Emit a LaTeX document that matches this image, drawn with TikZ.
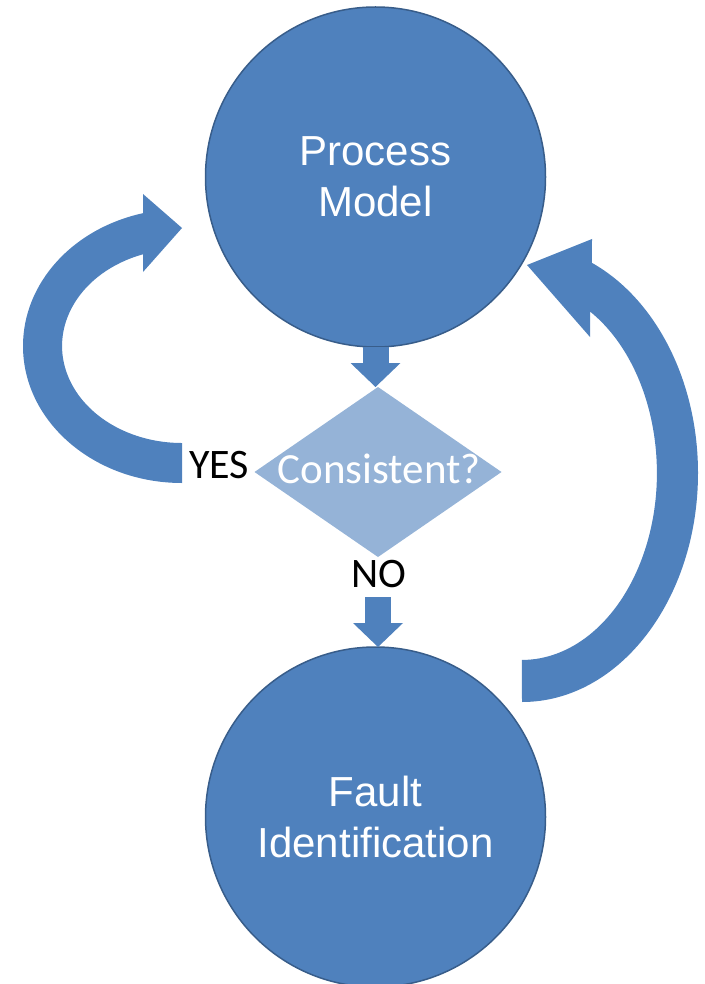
\documentclass[tikz,border=0pt]{standalone}
\usepackage{fontspec}
\setmainfont{Liberation Sans}
\newfontfamily\calibri{Carlito}
\usetikzlibrary{arrows.meta,shapes.geometric}
\definecolor{blu}{HTML}{4F81BD}
\definecolor{blubord}{HTML}{385D8A}
\definecolor{lblu}{HTML}{95B3D7}
\begin{document}
\begin{tikzpicture}[x=0.5pt,y=0.5pt,
  circ/.style={circle, fill=blu, draw=blubord, line width=0.75pt, minimum size=170pt,
    inner sep=0pt, outer sep=0pt, text=white, align=center,
    font=\fontsize{21}{25.5}\selectfont},
  dmd/.style={diamond, fill=lblu, minimum width=123.5pt, minimum height=85pt,
    inner sep=0pt, outer sep=0pt},
  lbl/.style={font=\calibri\fontsize{21}{24}\selectfont, anchor=base, inner sep=0pt},
  blockarrow/.style={draw=blu, line width=13pt,
    -{Triangle[width=25pt,length=12pt,line width=0pt]}},
  curvedarrow/.style={fill=blu}
]
\useasboundingbox (0,0) rectangle (705,-984);

% nodes
\node[circ] (pm) at (375.5,-177) {Process\\Model};
\node[circ] (fi) at (375.5,-817) {Fault\\Identification};
\node[dmd] (dia) at (378,-472) {};
\node[lbl, text=white, font=\calibri\fontsize{21.5}{24}\selectfont] (cons) at (379,-483) {Consistent?};
\node[lbl] (yes) at (219,-478) {YES};
\node[lbl] (no) at (378.5,-587) {NO};
\coordinate (nob) at (378,-597);

% straight block arrows
\draw[blockarrow] (pm.south) -- (pm.south |- dia.north);
\draw[blockarrow] (nob) -- (nob |- fi.north);

% left curved arrow (YES -> Process Model)
\fill[curvedarrow] (182,-483)
  arc[start angle=270, end angle=104.2, x radius=159, y radius=137]
  -- (143,-194) -- (182,-228) -- (143,-272) -- (143,-254.3)
  arc[start angle=109, end angle=270, x radius=120, y radius=97]
  -- cycle;

% right curved arrow (Fault Identification -> Process Model)
\fill[curvedarrow] (522,-702)
  arc[start angle=270, end angle=426.6, x radius=176, y radius=229]
  -- (592,-239) -- (527,-265) -- (590,-337) -- (590,-311.5)
  arc[start angle=419.7, end angle=270, x radius=135, y radius=187]
  -- cycle;
\end{tikzpicture}
\end{document}
